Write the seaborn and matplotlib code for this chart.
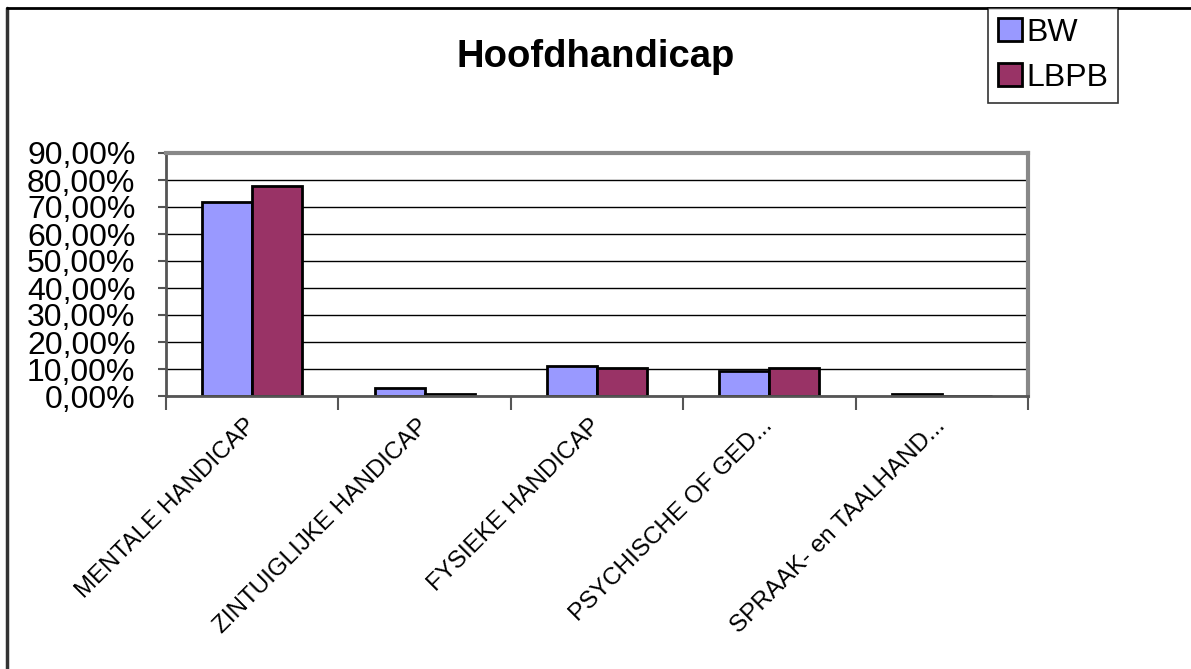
import matplotlib
matplotlib.use("Agg")
import matplotlib.pyplot as plt
import matplotlib.transforms as mtransforms
import seaborn as sns
import pandas as pd
from matplotlib.lines import Line2D
from matplotlib.ticker import FuncFormatter, MultipleLocator

categories = ["MENTALE HANDICAP", "ZINTUIGLIJKE HANDICAP", "FYSIEKE HANDICAP",
              "PSYCHISCHE OF GED...", "SPRAAK- en TAALHAND..."]
series = ["BW", "LBPB"]
bw_values = [0.719, 0.030, 0.110, 0.094, 0.006]
lbpb_values = [0.778, 0.006, 0.103, 0.103, 0.000]
colors = ["#9999FF", "#993366"]

df = pd.DataFrame({
    "cat": categories * 2,
    "series": [series[0]] * len(categories) + [series[1]] * len(categories),
    "value": bw_values + lbpb_values,
})

sns.set_style("white")
plt.rcParams["font.family"] = ["Liberation Sans", "DejaVu Sans"]
plt.rcParams["text.color"] = "black"
plt.rcParams["xtick.color"] = "black"
plt.rcParams["ytick.color"] = "black"
plt.rcParams["xtick.labelcolor"] = "black"
plt.rcParams["ytick.labelcolor"] = "black"

fig = plt.figure(figsize=(11.91, 6.69), dpi=100)
ax = fig.add_axes([166/1191, 1-396/669, (1028-166)/1191, (396-153)/669])

sns.barplot(data=df, x="cat", y="value", hue="series", order=categories,
            hue_order=series, palette=colors, width=0.58, ax=ax,
            edgecolor="black", linewidth=2, legend=False, errorbar=None,
            saturation=1)

ax.set_ylim(0, 0.9)
ax.set_xlim(-0.5, len(categories) - 0.5)
ax.yaxis.set_major_locator(MultipleLocator(0.1))
ax.yaxis.set_major_formatter(FuncFormatter(lambda v, p: f"{v*100:.2f}%".replace(".", ",")))
ax.grid(axis="y", color="black", linewidth=1)
ax.set_axisbelow(True)
ax.set_xlabel("")
ax.set_ylabel("")

for s in ["top", "right"]:
    ax.spines[s].set_color("#888888")
    ax.spines[s].set_linewidth(3)
ax.spines["left"].set_color("#555555")
ax.spines["left"].set_linewidth(2)
ax.spines["bottom"].set_color("#555555")
ax.spines["bottom"].set_linewidth(2)

ax.tick_params(axis="y", labelsize=23, length=6, width=1.5, color="#555555", pad=16,
               left=True, direction="out", labelcolor="black")
ax.set_xticks(range(len(categories)))
ax.set_xticklabels(categories, rotation=45, ha="right", va="top",
                   rotation_mode="anchor", fontsize=17.4, color="black")
ax.tick_params(axis="x", length=0, pad=15)
offset = mtransforms.ScaledTranslation(-8/100, 2/100, fig.dpi_scale_trans)
for lbl in ax.get_xticklabels():
    lbl.set_transform(lbl.get_transform() + offset)
# category boundary ticks
ax.set_xticks([i - 0.5 for i in range(len(categories) + 1)], minor=True)
ax.tick_params(axis="x", which="minor", length=10, width=1.5, color="#555555", direction="out", bottom=True)

fig.text(596/1191, 1-57/669, "Hoofdhandicap", ha="center", va="center",
         fontsize=27.5, fontweight="bold", color="black")

handles = [plt.Rectangle((0, 0), 1, 1, facecolor=c, edgecolor="black", linewidth=2) for c in colors]
leg = fig.legend(handles, series, loc="upper left", bbox_to_anchor=(988/1191, 1-8/669),
                 frameon=True, fontsize=23, handlelength=0.75, handleheight=0.75,
                 handletextpad=0.15, borderpad=0.3, labelspacing=0.48, fancybox=False,
                 borderaxespad=0, labelcolor="black")
leg.get_frame().set_edgecolor("black")
leg.get_frame().set_linewidth(1.2)

# outer frame lines
fig.add_artist(Line2D([7/1191, 7/1191], [0, 1-8/669], color="#333333", linewidth=2.5, transform=fig.transFigure))
fig.add_artist(Line2D([7/1191, 1], [1-8/669, 1-8/669], color="black", linewidth=2, transform=fig.transFigure))

fig.savefig("out.png", dpi=100)
